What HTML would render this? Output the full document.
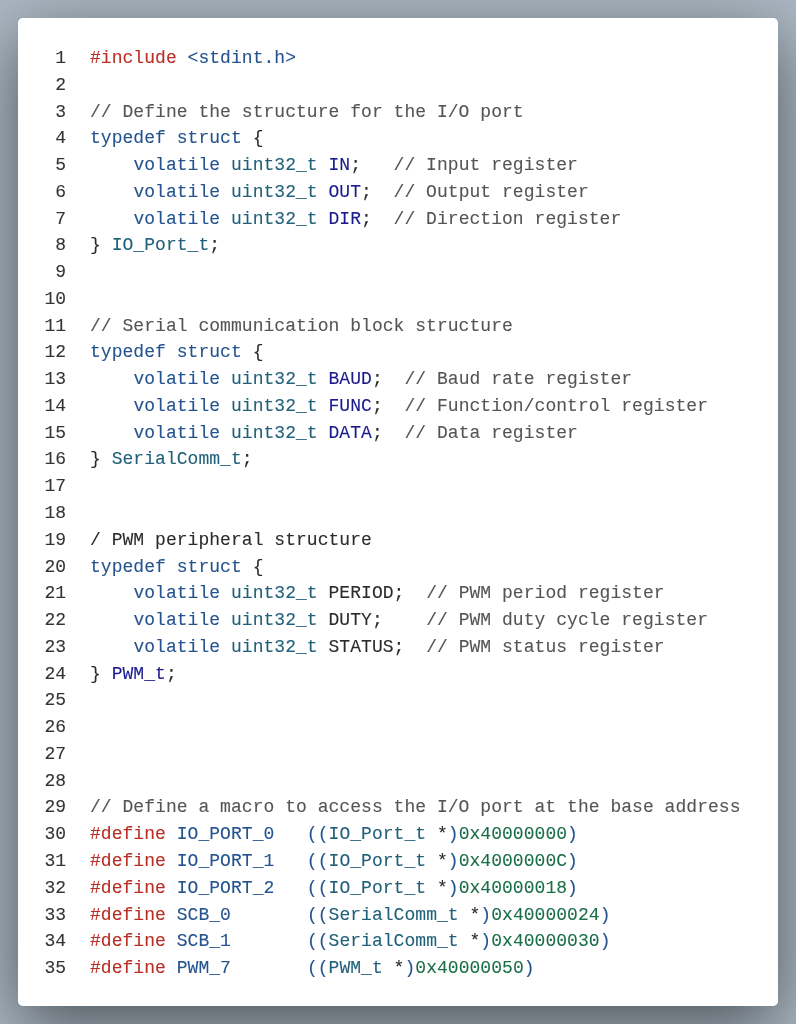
<!DOCTYPE html>
<html><head><meta charset="utf-8"><style>
html,body{margin:0;padding:0;}
body{width:796px;height:1024px;overflow:hidden;position:relative;background:#abb8c3;}
.shadow{position:absolute;left:18px;top:18px;width:760px;height:987.5px;border-radius:5px;box-shadow:0 20px 68px rgba(0,0,0,0.55);}
.card{position:absolute;left:18px;top:18px;width:760px;height:987.5px;background:#fff;border-radius:5px;}
pre{margin:0;position:absolute;font-family:"Liberation Mono",monospace;font-size:18px;line-height:26.76px;white-space:pre;-webkit-text-stroke:0.1px currentColor;}
.gut{left:29.5px;top:44.93px;width:36px;text-align:right;color:#333;}
pre{will-change:transform;}
.code{letter-spacing:0.04px;left:90.0px;top:44.93px;color:#2b2b2b;}
.pp{color:#b92d22;} .kw{color:#24538f;} .ty{color:#21607a;} .fd{color:#1a1a8c;}
.cm{color:#555;} .nm{color:#1a6e4a;} .tx{color:#2b2b2b;}
</style></head><body>
<div class="shadow"></div><div class="card"></div>
<pre class="gut">1
2
3
4
5
6
7
8
9
10
11
12
13
14
15
16
17
18
19
20
21
22
23
24
25
26
27
28
29
30
31
32
33
34
35</pre>
<pre class="code"><span class="pp">#include</span> <span class="kw">&lt;stdint.h&gt;</span>

<span class="cm">// Define the structure for the I/O port</span>
<span class="kw">typedef</span> <span class="kw">struct</span><span class="tx"> {</span>
    <span class="kw">volatile</span> <span class="ty">uint32_t</span> <span class="fd">IN</span><span class="tx">;</span>   <span class="cm">// Input register</span>
    <span class="kw">volatile</span> <span class="ty">uint32_t</span> <span class="fd">OUT</span><span class="tx">;</span>  <span class="cm">// Output register</span>
    <span class="kw">volatile</span> <span class="ty">uint32_t</span> <span class="fd">DIR</span><span class="tx">;</span>  <span class="cm">// Direction register</span>
<span class="tx">} </span><span class="ty">IO_Port_t</span><span class="tx">;</span>


<span class="cm">// Serial communication block structure</span>
<span class="kw">typedef</span> <span class="kw">struct</span><span class="tx"> {</span>
    <span class="kw">volatile</span> <span class="ty">uint32_t</span> <span class="fd">BAUD</span><span class="tx">;</span>  <span class="cm">// Baud rate register</span>
    <span class="kw">volatile</span> <span class="ty">uint32_t</span> <span class="fd">FUNC</span><span class="tx">;</span>  <span class="cm">// Function/control register</span>
    <span class="kw">volatile</span> <span class="ty">uint32_t</span> <span class="fd">DATA</span><span class="tx">;</span>  <span class="cm">// Data register</span>
<span class="tx">} </span><span class="ty">SerialComm_t</span><span class="tx">;</span>


<span class="tx">/ PWM peripheral structure</span>
<span class="kw">typedef</span> <span class="kw">struct</span><span class="tx"> {</span>
    <span class="kw">volatile</span> <span class="ty">uint32_t</span> <span class="tx">PERIOD;</span>  <span class="cm">// PWM period register</span>
    <span class="kw">volatile</span> <span class="ty">uint32_t</span> <span class="tx">DUTY;</span>    <span class="cm">// PWM duty cycle register</span>
    <span class="kw">volatile</span> <span class="ty">uint32_t</span> <span class="tx">STATUS;</span>  <span class="cm">// PWM status register</span>
<span class="tx">} </span><span class="fd">PWM_t</span><span class="tx">;</span>




<span class="cm">// Define a macro to access the I/O port at the base address</span>
<span class="pp">#define</span> <span class="kw">IO_PORT_0</span>   <span class="kw">((</span><span class="ty">IO_Port_t</span><span class="tx"> *</span><span class="kw">)</span><span class="nm">0x40000000</span><span class="kw">)</span>
<span class="pp">#define</span> <span class="kw">IO_PORT_1</span>   <span class="kw">((</span><span class="ty">IO_Port_t</span><span class="tx"> *</span><span class="kw">)</span><span class="nm">0x4000000C</span><span class="kw">)</span>
<span class="pp">#define</span> <span class="kw">IO_PORT_2</span>   <span class="kw">((</span><span class="ty">IO_Port_t</span><span class="tx"> *</span><span class="kw">)</span><span class="nm">0x40000018</span><span class="kw">)</span>
<span class="pp">#define</span> <span class="kw">SCB_0</span>       <span class="kw">((</span><span class="ty">SerialComm_t</span><span class="tx"> *</span><span class="kw">)</span><span class="nm">0x40000024</span><span class="kw">)</span>
<span class="pp">#define</span> <span class="kw">SCB_1</span>       <span class="kw">((</span><span class="ty">SerialComm_t</span><span class="tx"> *</span><span class="kw">)</span><span class="nm">0x40000030</span><span class="kw">)</span>
<span class="pp">#define</span> <span class="kw">PWM_7</span>       <span class="kw">((</span><span class="ty">PWM_t</span><span class="tx"> *</span><span class="kw">)</span><span class="nm">0x40000050</span><span class="kw">)</span></pre>
</body></html>
